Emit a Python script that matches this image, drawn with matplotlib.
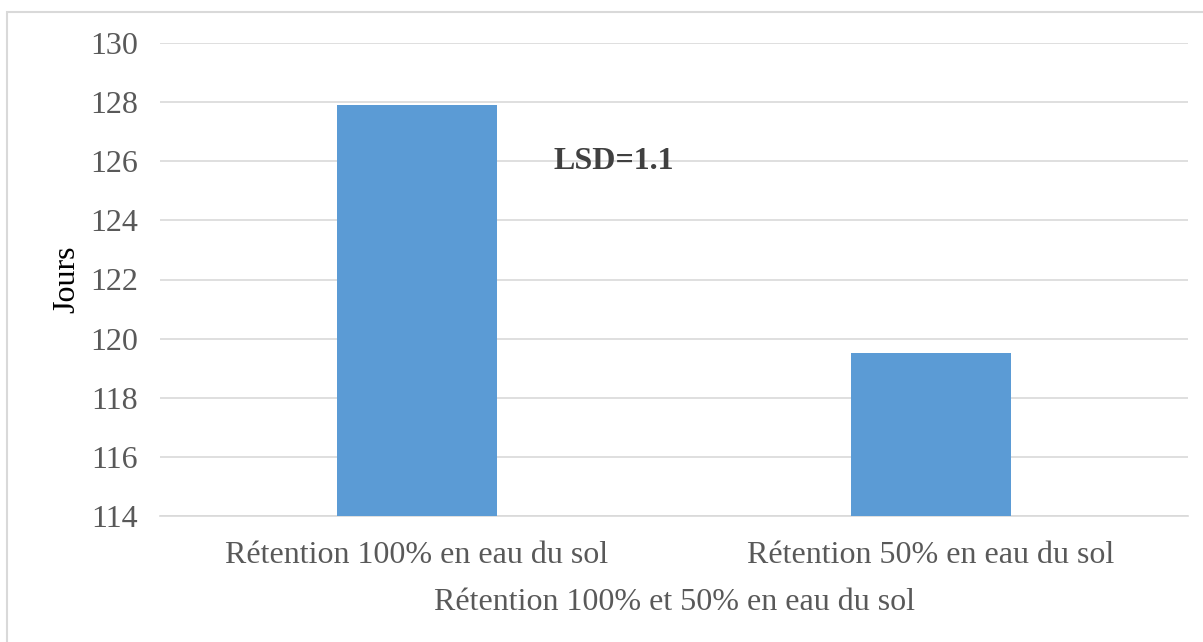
import matplotlib.pyplot as plt
from matplotlib.patches import Rectangle

categories = ["Rétention 100% en eau du sol", "Rétention 50% en eau du sol"]
values = [127.9, 119.5]
yticks = [114, 116, 118, 120, 122, 124, 126, 128, 130]

plt.rcParams['font.family'] = ['Liberation Serif', 'DejaVu Serif']
grey = "#595959"

fig = plt.figure(figsize=(12.03, 6.42), dpi=100)
W, H = 1203, 642
ax = fig.add_axes([160 / W, 1 - 516 / H, (1188 - 160) / W, (516 - 43) / H])

# frame of the chart area
fig.patches.append(Rectangle((7 / W, -0.1), 1.2, 1 - 12 / H + 0.1, transform=fig.transFigure,
                             fill=False, edgecolor="#d9d9d9", linewidth=1.5))

x = range(len(categories))
ax.bar(x, values, width=0.313, color="#5b9bd5", zorder=3)
ax.set_xlim(-0.5, 1.5)
ax.set_ylim(114, 130)
ax.set_yticks(yticks)
ax.set_xticks(list(x))
ax.set_xticklabels(categories)
ax.grid(axis="y", color="#d9d9d9", linewidth=1.2, zorder=0)
for s in ["top", "right", "left"]:
    ax.spines[s].set_visible(False)
ax.spines["bottom"].set_color("#d9d9d9")
ax.spines["bottom"].set_linewidth(1.2)
ax.tick_params(axis="both", length=0, labelsize=23, colors=grey)
ax.tick_params(axis="y", pad=16)
ax.tick_params(axis="x", pad=18)

ax.set_ylabel("Jours", fontsize=23, color="black", labelpad=6)
ax.set_xlabel("Rétention 100% et 50% en eau du sol", fontsize=23, color=grey, labelpad=13)

ax.text(0.265, 126, "LSD=1.1", fontsize=23, fontweight="bold", color="#404040", va="center")

fig.savefig("out.png", dpi=100)
